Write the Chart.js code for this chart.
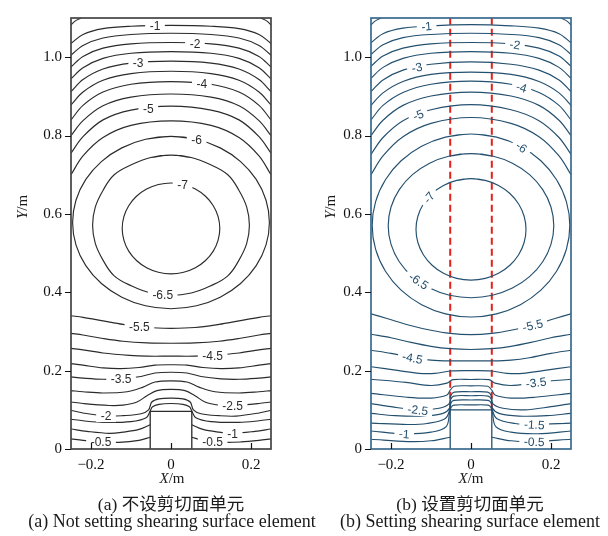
<!DOCTYPE html>
<html>
<head>
<meta charset="utf-8">
<script src="https://cdn.jsdelivr.net/npm/chart.js@4.4.1/dist/chart.umd.min.js"></script>
<style>
  body { margin: 0; background: #fff; }
  #page { position: relative; width: 608px; height: 536px; overflow: hidden; background: #fff; }
  .panel { position: absolute; top: 0; }
  .txt { position: absolute; font-family: "Liberation Serif", "Noto Sans CJK SC", serif; color: #1a1a1a; white-space: nowrap; text-align: center; }
  .ytitle { font-size: 15px; transform: translate(-50%, -50%) rotate(-90deg); }
</style>
</head>
<body>
<div id="page">
  <div class="panel" style="left:21px"><canvas id="chartA" width="260" height="475"></canvas></div>
  <div class="panel" style="left:321px"><canvas id="chartB" width="260" height="475"></canvas></div>

  <div class="txt ytitle" style="left:22px;top:207px"><i>Y</i>/m</div>
  <div class="txt ytitle" style="left:330px;top:207px"><i>Y</i>/m</div>
  <div class="txt" style="left:72px;width:200px;top:470px;font-size:15px"><i>X</i>/m</div>
  <div class="txt" style="left:371px;width:200px;top:470px;font-size:15px"><i>X</i>/m</div>
  <div class="txt" style="left:0;width:342px;top:490px;font-size:17.5px">(a) 不设剪切面单元</div>
  <div class="txt" style="left:300px;width:340px;top:490px;font-size:17.5px">(b) 设置剪切面单元</div>
  <div class="txt" style="left:0;width:344px;top:511px;font-size:18px">(a) Not setting shearing surface element</div>
  <div class="txt" style="left:300px;width:340px;top:511px;font-size:18px">(b) Setting shearing surface element</div>
</div>

<script>
// axis ticks
const xTicks = [-0.2, 0, 0.2];
const yTicks = [0, 0.2, 0.4, 0.6, 0.8, 1.0];

// upper contours: y at x stations (right half, mirrored for left)
const upperLevels = [-1, -1.5, -2, -2.5, -3, -3.5, -4, -4.5, -5, -5.5];
const upperX = [0, 0.1, 0.17, 0.22, 0.25];
const upperYA = [
  [1.081, 1.079, 1.073, 1.058, 1.035],
  [1.061, 1.058, 1.049, 1.030, 1.005],
  [1.0375, 1.034, 1.023, 1.002, 0.975],
  [1.014, 1.010, 0.997, 0.973, 0.945],
  [0.990, 0.985, 0.970, 0.943, 0.912],
  [0.964, 0.958, 0.941, 0.911, 0.878],
  [0.9375, 0.931, 0.911, 0.877, 0.840],
  [0.906, 0.898, 0.876, 0.838, 0.800],
  [0.875, 0.865, 0.840, 0.797, 0.755],
  [0.8375, 0.826, 0.795, 0.748, 0.700]
];
const upperYB = [
  [1.083, 1.080, 1.074, 1.060, 1.037],
  [1.061, 1.058, 1.050, 1.032, 1.007],
  [1.0375, 1.034, 1.023, 1.003, 0.977],
  [1.014, 1.010, 0.997, 0.974, 0.946],
  [0.988, 0.982, 0.967, 0.942, 0.912],
  [0.962, 0.956, 0.938, 0.909, 0.877],
  [0.939, 0.931, 0.910, 0.877, 0.840],
  [0.911, 0.901, 0.877, 0.839, 0.800],
  [0.879, 0.866, 0.838, 0.795, 0.752],
  [0.846, 0.831, 0.797, 0.748, 0.700]
];

// closed contours round the minimum: right half, top centre -> bottom centre
const loopLevels = [-6, -6.5, -7];
const loopsA = [
  [[0, 0.798], [0.0637, 0.7905], [0.123, 0.7685], [0.174, 0.7336], [0.213, 0.688], [0.2376, 0.6349], [0.246, 0.578],
   [0.2376, 0.5211], [0.213, 0.468], [0.174, 0.4224], [0.123, 0.3875], [0.0637, 0.3655], [0, 0.358]],
  [[0, 0.75], [0.0507, 0.7439], [0.098, 0.726], [0.142, 0.70], [0.1697, 0.6605], [0.1893, 0.6173], [0.196, 0.571],
   [0.1893, 0.5247], [0.1697, 0.4815], [0.142, 0.442], [0.098, 0.416], [0.0507, 0.3981], [0, 0.392]],
  [[0, 0.679], [0.0316, 0.675], [0.061, 0.6635], [0.0863, 0.645], [0.1057, 0.621], [0.1178, 0.593], [0.122, 0.563],
   [0.1178, 0.533], [0.1057, 0.505], [0.0863, 0.481], [0.061, 0.4625], [0.0316, 0.451], [0, 0.447]]
];
const loopsB = [
  [[0, 0.804], [0.0639, 0.796], [0.1235, 0.7727], [0.1747, 0.7356], [0.2139, 0.6873], [0.2386, 0.6309], [0.247, 0.5705],
   [0.2386, 0.5101], [0.2139, 0.4538], [0.1747, 0.4054], [0.1235, 0.3683], [0.0639, 0.345], [0, 0.337]],
  [[0, 0.754], [0.0536, 0.7477], [0.1035, 0.7293], [0.1464, 0.7001], [0.1793, 0.662], [0.1999, 0.6176], [0.207, 0.57],
   [0.1999, 0.5224], [0.1793, 0.478], [0.1464, 0.4399], [0.1035, 0.4107], [0.0536, 0.3923], [0, 0.386]],
  [[0, 0.69], [0.0356, 0.6856], [0.0688, 0.6727], [0.0972, 0.6521], [0.1191, 0.6253], [0.1328, 0.594], [0.1375, 0.5605],
   [0.1328, 0.527], [0.1191, 0.4958], [0.0972, 0.469], [0.0688, 0.4484], [0.0356, 0.4354], [0, 0.431]]
];

// lower contours round the pillar: right half (start x>0 means it ends on the pillar side)
const lowerLevels = [-5.5, -5, -4.5, -4, -3.5, -3, -2.5, -2, -1.5, -1, -0.5];
const lowerA = [
  [[0, 0.308], [0.06, 0.31], [0.12, 0.318], [0.17, 0.327], [0.22, 0.336], [0.25, 0.34]],
  [[0, 0.27], [0.06, 0.271], [0.12, 0.275], [0.17, 0.282], [0.22, 0.291], [0.25, 0.295]],
  [[0, 0.237], [0.06, 0.237], [0.104, 0.239], [0.17, 0.245], [0.22, 0.253], [0.25, 0.257]],
  [[0, 0.215], [0.04, 0.214], [0.08, 0.208], [0.125, 0.205], [0.17, 0.207], [0.22, 0.214], [0.25, 0.218]],
  [[0, 0.196], [0.04, 0.194], [0.075, 0.185], [0.125, 0.179], [0.17, 0.178], [0.22, 0.181], [0.25, 0.184]],
  [[0, 0.174], [0.04, 0.171], [0.07, 0.158], [0.11, 0.146], [0.17, 0.143], [0.22, 0.146], [0.25, 0.149]],
  [[0, 0.152], [0.035, 0.149], [0.06, 0.136], [0.085, 0.12], [0.12, 0.112], [0.154, 0.111], [0.22, 0.116], [0.25, 0.12]],
  [[0, 0.13], [0.03, 0.128], [0.048, 0.12], [0.056, 0.1], [0.075, 0.09], [0.12, 0.085], [0.1625, 0.084], [0.22, 0.092], [0.25, 0.099]],
  [[0, 0.116], [0.03, 0.114], [0.046, 0.108], [0.052, 0.097], [0.062, 0.08], [0.1, 0.07], [0.17, 0.068], [0.22, 0.072], [0.25, 0.076]],
  [[0.052, 0.062], [0.08, 0.05], [0.12, 0.043], [0.154, 0.04], [0.21, 0.045], [0.25, 0.051]],
  [[0.052, 0.03], [0.08, 0.022], [0.13, 0.017], [0.175, 0.018], [0.22, 0.022], [0.25, 0.026]]
];
const lowerB = [
  [[0, 0.292], [0.052, 0.295], [0.1, 0.303], [0.154, 0.316], [0.21, 0.333], [0.25, 0.345]],
  [[0, 0.254], [0.052, 0.256], [0.1, 0.262], [0.15, 0.272], [0.2, 0.284], [0.25, 0.293]],
  [[0, 0.225], [0.052, 0.225], [0.1, 0.227], [0.146, 0.233], [0.2, 0.244], [0.25, 0.252]],
  [[0, 0.2], [0.052, 0.199], [0.09, 0.193], [0.13, 0.193], [0.18, 0.2], [0.25, 0.21]],
  [[0, 0.1775], [0.045, 0.177], [0.06, 0.168], [0.1, 0.162], [0.1625, 0.17], [0.25, 0.178]],
  [[0, 0.161], [0.042, 0.16], [0.052, 0.15], [0.06, 0.138], [0.1, 0.13], [0.16, 0.132], [0.25, 0.142]],
  [[0, 0.146], [0.042, 0.145], [0.051, 0.135], [0.055, 0.115], [0.08, 0.104], [0.133, 0.1], [0.2, 0.108], [0.25, 0.116]],
  [[0, 0.136], [0.043, 0.135], [0.051, 0.126], [0.053, 0.105], [0.07, 0.091], [0.12, 0.084], [0.19, 0.085], [0.25, 0.091]],
  [[0, 0.125], [0.043, 0.124], [0.051, 0.116], [0.053, 0.1], [0.065, 0.077], [0.11, 0.065], [0.158, 0.0625], [0.25, 0.066]],
  [[0, 0.1125], [0.043, 0.112], [0.05, 0.106], [0.053, 0.097], [0.062, 0.057], [0.1, 0.043], [0.167, 0.039], [0.25, 0.046]],
  [[0.052, 0.03], [0.1, 0.021], [0.158, 0.019], [0.25, 0.025]]
];

// -0.5 pieces in the top corners
const cornerHalf = [[0.225, 1.1], [0.24, 1.092], [0.25, 1.082]];

// pillar outline and shear surface lines
const pillarA = [[-0.052, 0], [-0.052, 0.096], [0.052, 0.096], [0.052, 0]];
const pillarB = [[-0.052, 0], [-0.052, 0.1], [0.052, 0.1], [0.052, 0]];
const shearX = [-0.052, 0.052];
const shearY = [0.1, 1.1];

// contour labels: text, x, y
const labelsA = [
  ['-1', -0.04, 1.081], ['-2', 0.06, 1.0375], ['-3', -0.082, 0.986], ['-4', 0.077, 0.931],
  ['-5', -0.057, 0.871], ['-6', 0.064, 0.79], ['-7', 0.029, 0.677], ['-6.5', -0.021, 0.392],
  ['-5.5', -0.079, 0.312], ['-4.5', 0.104, 0.24], ['-3.5', -0.125, 0.18], ['-2.5', 0.154, 0.111],
  ['-2', -0.1625, 0.084], ['-1', 0.154, 0.04], ['-0.5', -0.175, 0.018], ['-0.5', 0.104, 0.019]
];
const labelsB = [
  ['-1', -0.111, 1.079], ['-2', 0.11, 1.033], ['-3', -0.136, 0.9775], ['-4', 0.127, 0.925],
  ['-5', -0.132, 0.8525], ['-6', 0.127, 0.771], ['-7', -0.104, 0.641], ['-6.5', -0.133, 0.425],
  ['-5.5', 0.154, 0.316], ['-4.5', -0.146, 0.233], ['-3.5', 0.1625, 0.17], ['-2.5', -0.133, 0.1],
  ['-1.5', 0.158, 0.0625], ['-1', -0.167, 0.039], ['-0.5', 0.158, 0.019]
];

const mirror = pts => pts.map(([x, y]) => [-x, y]);

function buildSets(upperY, loops, lower, pillar, color, withShear) {
  const sets = [];
  const line = (level, pts, extra) => sets.push(Object.assign({
    level: level,
    data: pts.map(([x, y]) => ({ x, y })),
    borderColor: color,
    borderWidth: 1.15,
    pointRadius: 0,
    showLine: true,
    fill: false,
    tension: 0.35
  }, extra || {}));

  upperLevels.forEach((lv, i) => {
    const half = upperX.map((x, j) => [x, upperY[i][j]]);
    line(lv, [...mirror(half.slice(1)).reverse(), ...half]);
  });
  loops.forEach((half, i) => {
    // ring closed with one point of overlap at each end so the join stays smooth
    const ring = [...half, ...mirror(half.slice(0, -1)).reverse()];
    line(loopLevels[i], [mirror([half[1]])[0], ...ring, half[1]], { tension: 0.4 });
  });
  lower.forEach((half, i) => {
    if (half[0][0] === 0) {
      line(lowerLevels[i], [...mirror(half.slice(1)).reverse(), ...half]);
    } else {
      line(lowerLevels[i], half);
      line(lowerLevels[i], mirror(half));
    }
  });
  line(-0.5, cornerHalf);
  line(-0.5, mirror(cornerHalf));
  line(null, pillar, { tension: 0, borderWidth: 1.3 });
  if (withShear) {
    shearX.forEach(sx => line(null, shearY.map(sy => [sx, sy]), {
      tension: 0, borderColor: '#e3221c', borderWidth: 2, borderDash: [7, 4]
    }));
  }
  return sets;
}

// frame, tick marks and contour labels
const contourDeco = {
  id: 'contourDeco',
  afterDatasetsDraw(chart, args, o) {
    const { ctx, scales: { x, y } } = chart;
    ctx.save();
    ctx.font = '12px "Liberation Sans", Arial, sans-serif';
    ctx.textAlign = 'center';
    ctx.textBaseline = 'middle';
    o.labels.forEach(([txt, lx, ly]) => {
      let px = x.getPixelForValue(lx), py = y.getPixelForValue(ly);
      let best = Infinity, sx = px, sy = py, ang = 0;
      chart.data.datasets.forEach(ds => {
        if (ds.level !== parseFloat(txt)) return;
        const pts = ds.data.map(p => [x.getPixelForValue(p.x), y.getPixelForValue(p.y)]);
        for (let i = 0; i < pts.length - 1; i++) {
          const [ax, ay] = pts[i], [bx, by] = pts[i + 1];
          const dx = bx - ax, dy = by - ay;
          const L = dx * dx + dy * dy || 1;
          let t = ((px - ax) * dx + (py - ay) * dy) / L;
          t = Math.max(0, Math.min(1, t));
          const qx = ax + t * dx, qy = ay + t * dy;
          const d = (qx - px) ** 2 + (qy - py) ** 2;
          if (d < best) { best = d; sx = qx; sy = qy; ang = Math.atan2(dy, dx); }
        }
      });
      if (best < 100) { px = sx; py = sy; }
      if (ang > Math.PI / 2) ang -= Math.PI;
      if (ang < -Math.PI / 2) ang += Math.PI;
      if (!o.rotate) ang = 0;
      const w = ctx.measureText(txt).width + 9;
      ctx.save();
      ctx.translate(px, py);
      ctx.rotate(ang);
      ctx.fillStyle = '#fff';
      ctx.fillRect(-w / 2, -6, w, 12);
      ctx.fillStyle = o.textColor;
      ctx.fillText(txt, 0, 1);
      ctx.restore();
    });
    ctx.restore();
  },
  afterDraw(chart, args, o) {
    const { ctx, chartArea: a, scales: { x, y } } = chart;
    ctx.save();
    ctx.strokeStyle = o.frameColor;
    ctx.lineWidth = 1.7;
    ctx.strokeRect(a.left, a.top, a.right - a.left, a.bottom - a.top);
    ctx.strokeStyle = '#111';
    ctx.lineWidth = 1.2;
    ctx.beginPath();
    xTicks.forEach(v => {
      const px = Math.round(x.getPixelForValue(v)) + 0.5;
      ctx.moveTo(px, a.bottom);
      ctx.lineTo(px, a.bottom - 6);
    });
    yTicks.forEach(v => {
      const py = Math.round(y.getPixelForValue(v)) + 0.5;
      ctx.moveTo(a.left, py);
      ctx.lineTo(a.left - 6, py);
    });
    ctx.stroke();
    ctx.restore();
  }
};

const tickFont = { family: '"Liberation Serif", serif', size: 15 };
const fmtX = v => v === 0 ? '0' : (v < 0 ? '\u2212' + Math.abs(v).toFixed(1) : v.toFixed(1));
const fmtY = v => v === 0 ? '0' : v.toFixed(1);

function makeChart(id, sets, labels, rotate, lineColor, frameColor) {
  return new Chart(document.getElementById(id), {
    type: 'scatter',
    data: { datasets: sets },
    options: {
      responsive: false,
      animation: false,
      devicePixelRatio: 1,
      layout: { padding: { top: 9, right: 10, left: 0, bottom: 0 } },
      plugins: {
        legend: { display: false },
        tooltip: { enabled: false },
        contourDeco: { labels: labels, rotate: rotate, textColor: lineColor, frameColor: frameColor }
      },
      scales: {
        x: {
          type: 'linear', min: -0.25, max: 0.25,
          afterBuildTicks: s => { s.ticks = xTicks.map(v => ({ value: v })); },
          afterFit: s => { s.height = 26; },
          grid: { display: false, drawTicks: false },
          border: { display: false },
          ticks: { autoSkip: false, maxRotation: 0, padding: 7, color: '#111', font: tickFont, callback: fmtX }
        },
        y: {
          type: 'linear', min: 0, max: 1.1,
          afterBuildTicks: s => { s.ticks = yTicks.map(v => ({ value: v })); },
          afterFit: s => { s.width = 50; },
          grid: { display: false, drawTicks: false },
          border: { display: false },
          ticks: { autoSkip: false, padding: 9, color: '#111', font: tickFont, callback: fmtY }
        }
      }
    },
    plugins: [contourDeco]
  });
}

const colorA = '#2b2b2b';
const colorB = '#24506f';
makeChart('chartA', buildSets(upperYA, loopsA, lowerA, pillarA, colorA, false), labelsA, false, colorA, '#444');
makeChart('chartB', buildSets(upperYB, loopsB, lowerB, pillarB, colorB, true), labelsB, true, colorB, '#3a6a8d');
</script>
</body>
</html>
